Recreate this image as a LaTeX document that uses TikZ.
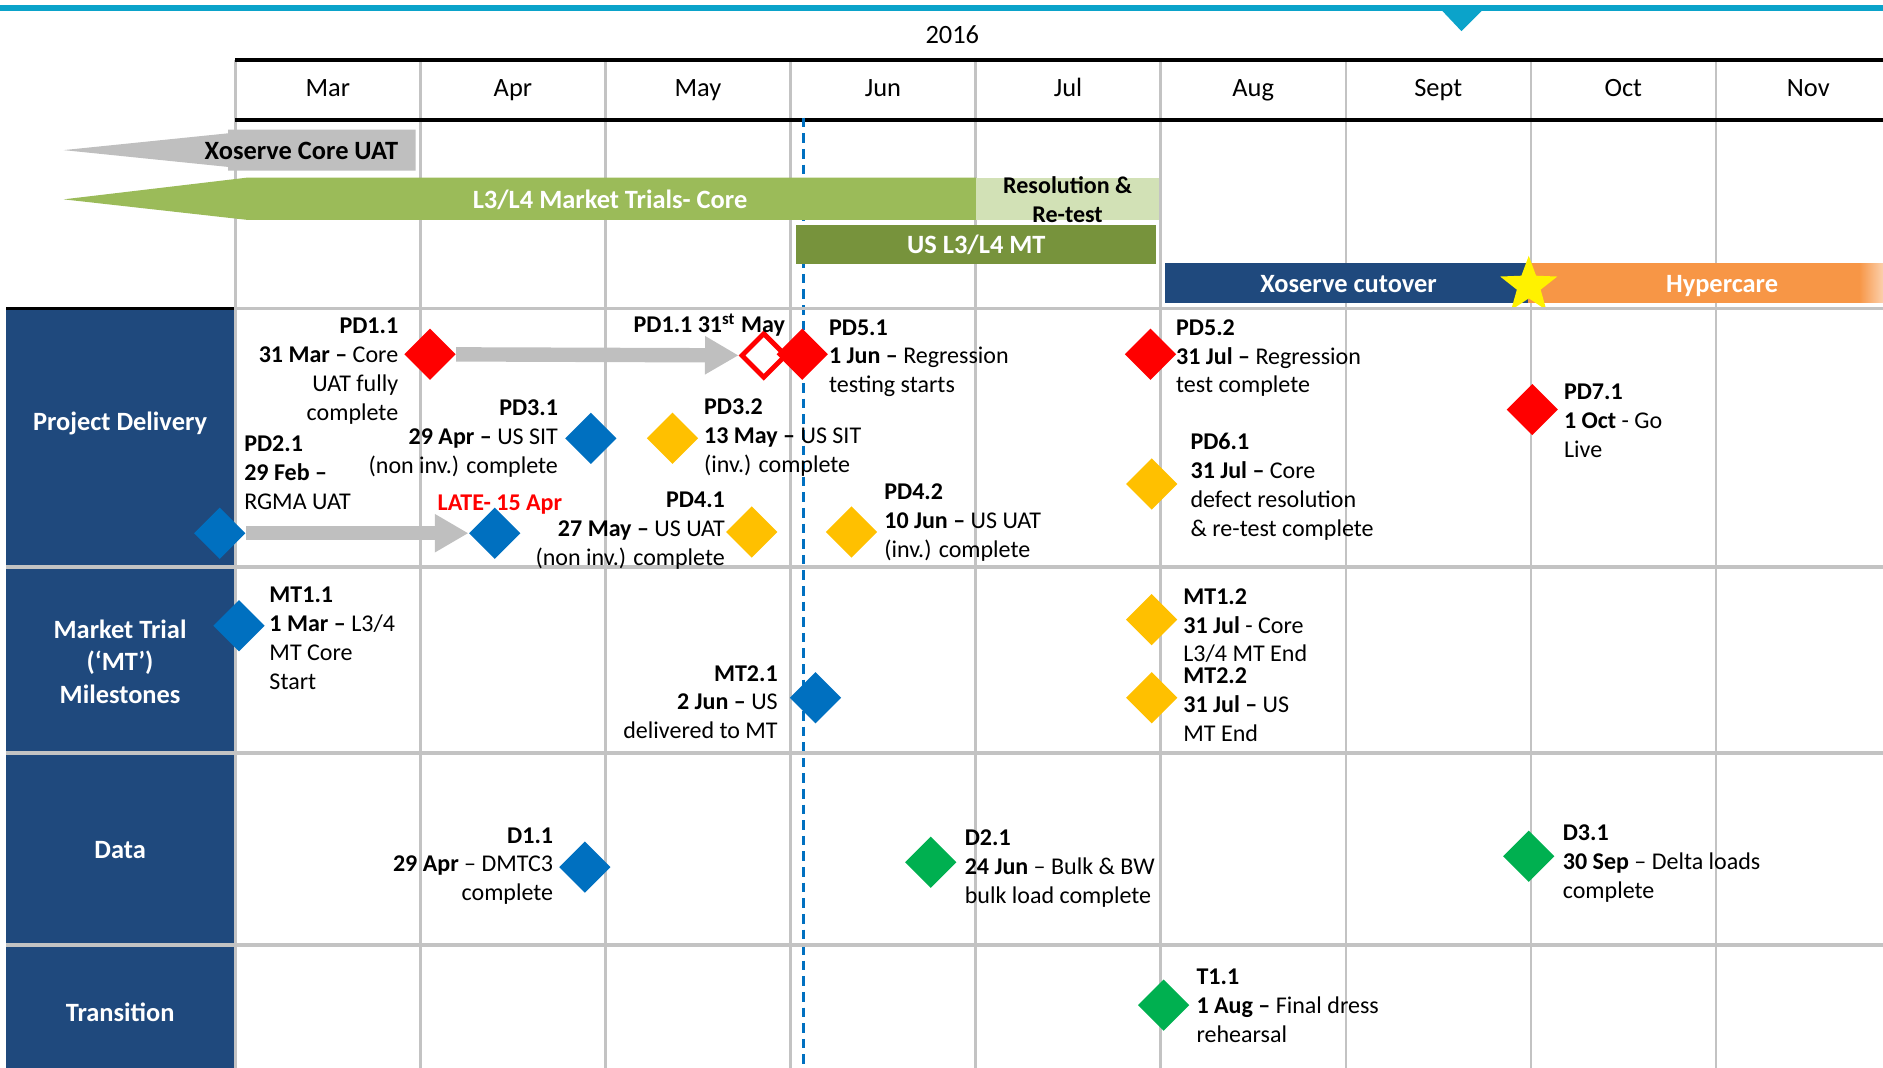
\documentclass[tikz,border=0pt]{standalone}
\usepackage{fontspec}
\setmainfont{Carlito}
\usetikzlibrary{shapes.geometric,arrows.meta}
\definecolor{topblue}{HTML}{0BA3CA}
\definecolor{gridgray}{HTML}{C3C3C3}
\definecolor{uatgray}{HTML}{BFBFBF}
\definecolor{trialgreen}{HTML}{9BBB59}
\definecolor{retestgreen}{HTML}{D2E1B6}
\definecolor{usgreen}{HTML}{77933C}
\definecolor{navy}{HTML}{1F497D}
\definecolor{hyperorange}{HTML}{F79646}
\definecolor{msred}{HTML}{FF0000}
\definecolor{msblue}{HTML}{0070C0}
\definecolor{msyellow}{HTML}{FFC000}
\definecolor{msgreen}{HTML}{00B050}
\tikzset{
    grid-line/.style = {draw=gridgray, line width=1pt},
    row-line/.style = {draw=gridgray, line width=1.5pt},
    month-label/.style = {font=\fontsize{11}{13}\selectfont, text height=9pt, text depth=1.5pt},
    bar-label/.style = {text=white, font=\fontsize{11}{13}\selectfont\bfseries, text height=9pt, text depth=1.5pt},
    cat-label/.style = {text=white, font=\fontsize{11}{13.5}\selectfont\bfseries, align=center},
    milestone/.style = {diamond, aspect=1, inner sep=0pt, minimum size=21.5pt},
    ms-text-l/.style = {anchor=north west, align=left, inner sep=0pt, yshift=3.2pt, font=\fontsize{10}{12}\selectfont},
    ms-text-r/.style = {anchor=north east, align=right, inner sep=0pt, yshift=3.2pt, font=\fontsize{10}{12}\selectfont},
    slip-arrow/.style = {draw=uatgray, line width=6pt, -{Triangle[width=15pt, length=14pt]}},
}

\begin{document}
\begin{tikzpicture}[x=0.5pt, y=-0.5pt]
\useasboundingbox (0,0) rectangle (1568,889);
% year bar
\draw[topblue, line width=2.5pt] (0,7) -- (1568,7);
\fill[topblue] (1200,8) -- (1235,8) -- (1217,26) -- cycle;
\node[month-label] (year) at (793,29) {2016};
% month grid
\foreach \i in {0,...,8}
    \draw[grid-line] ({196+154.1*\i},50) -- ({196+154.1*\i},889);
\foreach \m [count=\i from 0] in {Mar,Apr,May,Jun,Jul,Aug,Sept,Oct,Nov}
    \node[month-label] (month-\i) at ({273+154.1*\i},73) {\m};
\draw[black, line width=1.5pt] (196,50) -- (1568,50);
\draw[black, line width=1.5pt] (196,100) -- (1568,100);
% current date
\draw[msblue, line width=1.2pt, dash pattern=on 4pt off 2.5pt] (669,98) -- (669,889);
% phase bars
\fill[uatgray] (53,125) -- (190,111) -- (190,108) -- (346,108) -- (346,142) -- (190,142) -- (190,139) -- cycle;
\node[font=\fontsize{11}{13}\selectfont\bfseries, text height=9pt, text depth=1.5pt] (uat) at (251,125) {Xoserve Core UAT};
\fill[trialgreen] (53,166) -- (205,148) -- (813,148) -- (813,183) -- (205,183) -- cycle;
\node[bar-label] (trials) at (508,166) {L3/L4 Market Trials- Core};
\fill[retestgreen] (813,148) rectangle (965,183);
\node[font=\fontsize{10}{12}\selectfont\bfseries, align=center] (retest) at (889,166) {Resolution \&\\Re-test};
\fill[usgreen] (663,187) rectangle (963,220);
\node[bar-label] (usmt) at (813,204) {US L3/L4 MT};
\fill[navy] (970,219) rectangle (1272,252);
\node[bar-label] (cutover) at (1123,236) {Xoserve cutover};
\fill[hyperorange] (1272,219) rectangle (1548,252);
\shade[left color=hyperorange, right color=hyperorange!45] (1548,219) rectangle (1568,252);
\node[bar-label] (hypercare) at (1434,236) {Hypercare};
\node[star, star points=5, star point ratio=2.4, fill=yellow, inner sep=0pt, minimum size=25pt] (golive) at (1273,238) {};
% swimlanes
\fill[navy] (5,257) rectangle (195,889);
\draw[black, line width=1.5pt] (5,257) -- (195,257);
\draw[row-line] (196,257) -- (1568,257);
\foreach \y in {472,627,787}
    \draw[row-line] (5,\y) -- (1568,\y);
\node[cat-label] (lane-pd) at (100,353) {Project Delivery};
\node[cat-label] (lane-mt) at (100,551) {Market Trial\\(‘MT’)\\Milestones};
\node[cat-label] (lane-data) at (100,708) {Data};
\node[cat-label] (lane-trans) at (100,843) {Transition};
% milestones
\node[milestone, fill=msred] (pd11) at (358,295) {};
\node[milestone, draw=msred, line width=2pt, fill=white, minimum size=19pt] (pd11late) at (636,296) {};
\node[milestone, fill=msred] (pd51) at (668,295) {};
\node[milestone, fill=msred] (pd52) at (958,295) {};
\node[milestone, fill=msred] (pd71) at (1276,341) {};
\node[milestone, fill=msblue] (pd31) at (492,365) {};
\node[milestone, fill=msyellow] (pd32) at (560,365) {};
\node[milestone, fill=msblue] (pd21) at (183,444) {};
\node[milestone, fill=msblue] (pd21late) at (412,444) {};
\node[milestone, fill=msyellow] (pd41) at (626,443) {};
\node[milestone, fill=msyellow] (pd42) at (709,443) {};
\node[milestone, fill=msyellow] (pd61) at (959,403) {};
\node[milestone, fill=msblue] (mt11) at (199,521) {};
\node[milestone, fill=msblue] (mt21) at (679,581) {};
\node[milestone, fill=msyellow] (mt12) at (959,516) {};
\node[milestone, fill=msyellow] (mt22) at (959,581) {};
\node[milestone, fill=msblue] (d11) at (487,722) {};
\node[milestone, fill=msgreen] (d21) at (775,718) {};
\node[milestone, fill=msgreen] (d31) at (1273,713) {};
\node[milestone, fill=msgreen] (t11) at (969,837) {};
% slippage
\draw[slip-arrow] (pd11) -- (pd11late);
\draw[slip-arrow] (pd21) -- (pd21late);
% milestone texts
\node[ms-text-r] (pd11-text) at (332,271) {\textbf{PD1.1}\\\textbf{31 Mar –} Core\\UAT fully\\complete};
\node[ms-text-r] (pd11late-text) at (654,267) {\textbf{PD1.1 31\textsuperscript{st} May}};
\node[ms-text-l] (pd51-text) at (690,272) {\textbf{PD5.1}\\\textbf{1 Jun –} Regression\\testing starts};
\node[ms-text-l] (pd52-text) at (979,272) {\textbf{PD5.2}\\\textbf{31 Jul –} Regression\\test complete};
\node[ms-text-l] (pd71-text) at (1302,326) {\textbf{PD7.1}\\\textbf{1 Oct} - Go\\Live};
\node[ms-text-r] (pd31-text) at (465,339) {\textbf{PD3.1}\\\textbf{29 Apr –} US SIT\\(non inv.) complete};
\node[ms-text-l] (pd32-text) at (586,338) {\textbf{PD3.2}\\\textbf{13 May –} US SIT\\(inv.) complete};
\node[ms-text-l] (pd21-text) at (203,369) {\textbf{PD2.1}\\\textbf{29 Feb –}\\RGMA UAT};
\node[ms-text-l, text=msred, font=\fontsize{10}{12}\selectfont\bfseries] (pd21late-text) at (364,418) {LATE- 15 Apr};
\node[ms-text-r] (pd41-text) at (604,416) {\textbf{PD4.1}\\\textbf{27 May –} US UAT\\(non inv.) complete};
\node[ms-text-l] (pd42-text) at (736,409) {\textbf{PD4.2}\\\textbf{10 Jun –} US UAT\\(inv.) complete};
\node[ms-text-l] (pd61-text) at (991,367) {\textbf{PD6.1}\\\textbf{31 Jul –} Core\\defect resolution\\\& re-test complete};
\node[ms-text-l] (mt11-text) at (224,495) {\textbf{MT1.1}\\\textbf{1 Mar –} L3/4\\MT Core\\Start};
\node[ms-text-r] (mt21-text) at (648,560) {\textbf{MT2.1}\\\textbf{2 Jun –} US\\delivered to MT};
\node[ms-text-l] (mt12-text) at (985,496) {\textbf{MT1.2}\\\textbf{31 Jul} - Core\\L3/4 MT End};
\node[ms-text-l] (mt22-text) at (985,562) {\textbf{MT2.2}\\\textbf{31 Jul –} US\\MT End};
\node[ms-text-r] (d11-text) at (461,695) {\textbf{D1.1}\\\textbf{29 Apr} – DMTC3\\complete};
\node[ms-text-l] (d21-text) at (803,697) {\textbf{D2.1}\\\textbf{24 Jun} – Bulk \& BW\\bulk load complete};
\node[ms-text-l] (d31-text) at (1301,693) {\textbf{D3.1}\\\textbf{30 Sep} – Delta loads\\complete};
\node[ms-text-l] (t11-text) at (996,813) {\textbf{T1.1}\\\textbf{1 Aug –} Final dress\\rehearsal};
\end{tikzpicture}
\end{document}
